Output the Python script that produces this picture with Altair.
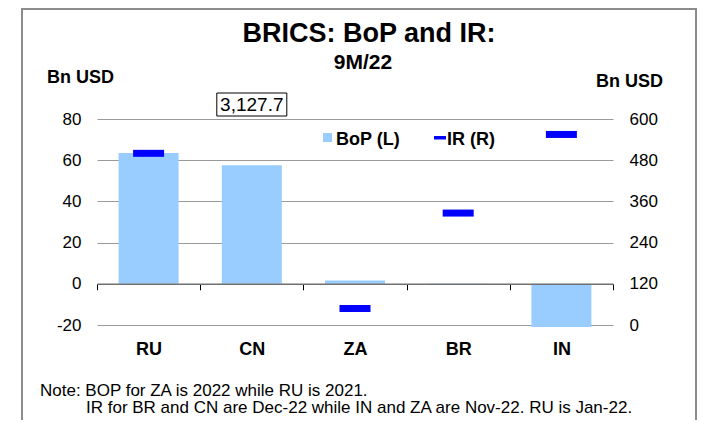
import altair as alt
import pandas as pd

# ---- data ----
countries = ["RU", "CN", "ZA", "BR", "IN"]
bop_values = [63.5, 57.5, 1.6, -0.6, -21.0]          # Bn USD, left axis
ir_values = [500, 3127.7, 48, 326, 555]              # Bn USD, right axis
left_ticks = [-20, 0, 20, 40, 60, 80]
right_ticks = [0, 120, 240, 360, 480, 600]
title_text = "BRICS: BoP and IR:"
subtitle_text = "9M/22"
unit_text = "Bn USD"
legend_labels = ["BoP (L)", "IR (R)"]
note_lines = [
    "Note: BOP for ZA is 2022 while RU is 2021.",
    "IR for BR and CN are Dec-22 while IN and ZA are Nov-22. RU is Jan-22.",
]

df = pd.DataFrame({"country": countries, "bop": bop_values, "ir": ir_values})
one = pd.DataFrame({"k": [0]})

FONT = "Liberation Sans, Arial, sans-serif"
BAR_COLOR = "#99CCFF"
IR_COLOR = "#0000FF"
W, H = 516, 206

x_enc = alt.X(
    "country:N",
    sort=countries,
    scale=alt.Scale(paddingInner=0, paddingOuter=0),
    axis=alt.Axis(
        title=None, orient="bottom", offset=-41.2, zindex=1,
        domainColor="#707070", domainWidth=1.5,
        ticks=True, tickBand="extent", tickColor="#000000", tickSize=6, tickWidth=1,
        labelFont=FONT, labelFontSize=18, labelFontWeight="bold", labelColor="#000000",
        labelPadding=51, labelAngle=0, grid=False,
    ),
)

bars = alt.Chart(df).mark_bar(size=60, color=BAR_COLOR).encode(
    x=x_enc,
    y=alt.Y(
        "bop:Q",
        scale=alt.Scale(domain=[-20, 80], nice=False, zero=False),
        axis=alt.Axis(
            title=None, values=left_ticks, grid=True, gridColor="#9a9a9a", gridWidth=1,
            domain=False, ticks=False, labelFont=FONT, labelFontSize=17,
            labelPadding=16, labelColor="#000000", labelExpr="'' + datum.value",
        ),
    ),
)

ir_marks = alt.Chart(df).mark_tick(size=31, thickness=7, color=IR_COLOR, clip=True, opacity=1).encode(
    x=x_enc,
    y=alt.Y(
        "ir:Q",
        scale=alt.Scale(domain=[0, 600], nice=False),
        axis=alt.Axis(
            title=None, orient="right", values=right_ticks, grid=False,
            domain=False, ticks=False, labelFont=FONT, labelFontSize=17,
            labelPadding=16, labelColor="#000000", labelExpr="'' + datum.value",
        ),
    ),
)

cn = alt.Chart(df).transform_filter(alt.datum.country == "CN")
box = cn.mark_bar(size=70, fill="white", stroke="#000000", strokeWidth=1).encode(
    x=x_enc, y=alt.value(-26), y2=alt.value(-3)
)
box_label = cn.mark_text(font=FONT, fontSize=19, baseline="alphabetic", align="center", color="#000000").encode(
    x=x_enc, y=alt.value(-8), text=alt.Text("ir:Q", format=",.1f")
)

border = alt.Chart(one).mark_rect(fill="transparent", stroke="#8c8c8c", strokeWidth=2).encode(
    x=alt.value(-75), x2=alt.value(599), y=alt.value(-110), y2=alt.value(330)
)


def txt(s, x, y, size, weight="normal", align="left"):
    return alt.Chart(one).mark_text(
        text=s, font=FONT, fontSize=size, fontWeight=weight, align=align,
        baseline="alphabetic", color="#000000",
    ).encode(x=alt.value(x), y=alt.value(y))


leg_sq = alt.Chart(one).mark_rect(color=BAR_COLOR).encode(
    x=alt.value(226), x2=alt.value(235), y=alt.value(14), y2=alt.value(23)
)
leg_dash = alt.Chart(one).mark_rect(color=IR_COLOR).encode(
    x=alt.value(337), x2=alt.value(349), y=alt.value(17), y2=alt.value(20.5)
)

layers = [
    border,
    bars,
    ir_marks,
    box,
    box_label,
    leg_sq,
    leg_dash,
    txt(legend_labels[0], 239, 25.5, 18, "bold"),
    txt(legend_labels[1], 350, 25.5, 18, "bold"),
    txt(title_text, 272, -77, 27, "bold", "center"),
    txt(subtitle_text, 266, -50, 21, "bold", "center"),
    txt(unit_text, -50, -36, 18, "bold"),
    txt(unit_text, 499, -32, 18, "bold"),
    txt(note_lines[0], -57, 277, 17),
    txt(note_lines[1], -11, 294, 17),
]

chart = (
    alt.layer(*layers)
    .resolve_scale(y="independent")
    .properties(
        width=W,
        height=H,
        padding={"left": 89, "top": 111, "right": 84, "bottom": 95},
        autosize=alt.AutoSizeParams(type="none"),
        background="white",
    )
    .configure_view(stroke=None)
)

chart.save("out.html", embed_options={"renderer": "svg", "actions": False})
